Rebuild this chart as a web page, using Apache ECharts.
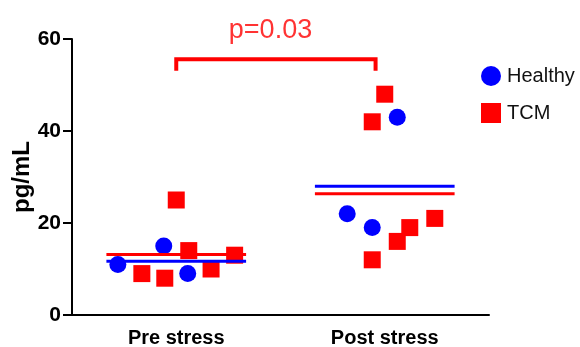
<!DOCTYPE html>
<html>
<head>
<meta charset="utf-8">
<script src="https://cdn.jsdelivr.net/npm/echarts@6/dist/echarts.min.js"></script>
<style>html,body{margin:0;padding:0;background:#fff}#c{width:580px;height:347px}</style>
</head>
<body>
<div id="c"></div>
<script>
// ---- data ----
const categories = ['Pre stress', 'Post stress'];
const yTicks = [0, 20, 40, 60];
// Healthy values and horizontal jitter (fraction of category width)
const healthyPre = [11, 15, 9];
const healthyPreJitter = [-0.28, -0.06, 0.055];
const healthyPost = [43, 22, 19];
const healthyPostJitter = [0.06, -0.18, -0.06];
// TCM values and jitter
const tcmPre = [25, 14, 9, 8, 10, 13];
const tcmPreJitter = [0.0, 0.06, -0.165, -0.055, 0.167, 0.28];
const tcmPost = [48, 42, 21, 19, 16, 12];
const tcmPostJitter = [0.0, -0.06, 0.24, 0.12, 0.06, -0.06];
const pText = 'p=0.03';

const mean = a => a.reduce((s, v) => s + v, 0) / a.length;
const pts = (vals, jit, g) => vals.map((v, i) => [g + jit[i], v]);
const meanLine = (vals, g) => [[g - 0.335, mean(vals)], [g + 0.335, mean(vals)]];

const chart = echarts.init(document.getElementById('c'), null, {renderer: 'canvas'});
const FONT = '"Liberation Sans", Arial, sans-serif';
const BLUE = '#0000FF', RED = '#FF0000';

chart.setOption({
  animation: false,
  backgroundColor: '#fff',
  grid: {left: 72, right: 91, top: 39, bottom: 32, containLabel: false, outerBoundsMode: 'none'},
  legend: {
    orient: 'vertical', left: 476, top: 61, itemGap: 17,
    itemWidth: 20, itemHeight: 20,
    textStyle: {fontFamily: FONT, fontSize: 20, color: '#111', padding: [0, 0, 0, 1]},
    data: [{name: 'Healthy', icon: 'circle'}, {name: 'TCM', icon: 'rect'}]
  },
  xAxis: [{
    type: 'category', data: categories, boundaryGap: true,
    axisLine: {onZero: false, lineStyle: {color: '#000', width: 2}},
    axisTick: {alignWithLabel: true, length: 8, lineStyle: {color: '#000', width: 2}},
    axisLabel: {fontFamily: FONT, fontSize: 20, fontWeight: 'bold', color: '#000', margin: 13},
    splitLine: {show: false}
  }, {
    type: 'value', min: -0.5, max: 1.5, show: false
  }],
  yAxis: {
    type: 'value', min: yTicks[0], max: yTicks[yTicks.length - 1], interval: 20,
    name: 'pg/mL', nameLocation: 'middle', nameGap: 38, nameRotate: 90, nameMoveOverlap: false,
    nameTextStyle: {fontFamily: FONT, fontSize: 24, fontWeight: 'bold', color: '#000'},
    axisLine: {show: true, onZero: false, lineStyle: {color: '#000', width: 2}},
    axisTick: {show: true, length: 9, lineStyle: {color: '#000', width: 2}},
    axisLabel: {fontFamily: FONT, fontSize: 21, fontWeight: 'bold', color: '#000', margin: 11},
    splitLine: {show: false}
  },
  series: [
    {name: 'Healthy', type: 'scatter', xAxisIndex: 1, symbol: 'circle', symbolSize: 17,
     itemStyle: {color: BLUE, opacity: 1}, z: 3,
     data: pts(healthyPre, healthyPreJitter, 0).concat(pts(healthyPost, healthyPostJitter, 1))},
    {name: 'TCM', type: 'scatter', xAxisIndex: 1, symbol: 'rect', symbolSize: 17,
     itemStyle: {color: RED, opacity: 1}, z: 3,
     data: pts(tcmPre, tcmPreJitter, 0).concat(pts(tcmPost, tcmPostJitter, 1))},
    {type: 'line', xAxisIndex: 1, showSymbol: false, symbol: 'none', z: 5, silent: true,
     lineStyle: {color: RED, width: 3}, data: meanLine(tcmPre, 0)},
    {type: 'line', xAxisIndex: 1, showSymbol: false, symbol: 'none', z: 5, silent: true,
     lineStyle: {color: RED, width: 3}, data: meanLine(tcmPost, 1)},
    {type: 'line', xAxisIndex: 1, showSymbol: false, symbol: 'none', z: 6, silent: true,
     lineStyle: {color: BLUE, width: 3}, data: meanLine(healthyPre, 0)},
    {type: 'line', xAxisIndex: 1, showSymbol: false, symbol: 'none', z: 6, silent: true,
     lineStyle: {color: BLUE, width: 3}, data: meanLine(healthyPost, 1)},
    // significance bracket
    {type: 'line', xAxisIndex: 1, showSymbol: false, symbol: 'none', z: 6, silent: true, clip: false,
     lineStyle: {color: RED, width: 4, cap: 'butt', join: 'miter'},
     data: [[0, 53.1], [0, 55.6], [0.956, 55.6], [0.956, 53.1]]},
    {type: 'scatter', xAxisIndex: 1, symbolSize: 0, silent: true, clip: false, z: 6,
     label: {show: true, position: 'inside', formatter: pText, color: RED,
             fontFamily: FONT, fontSize: 27},
     data: [[0.452, 61.9]]}
  ]
});
</script>
</body>
</html>
